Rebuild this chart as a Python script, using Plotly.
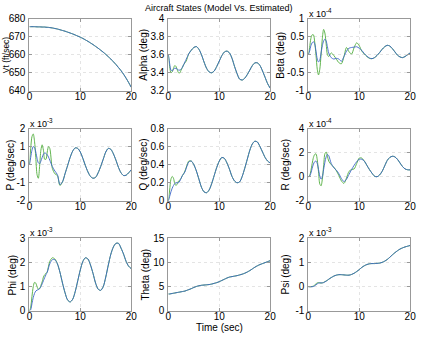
import plotly.graph_objects as go

# ---------------- data ----------------
time_s = [0, 0.25, 0.5, 0.75, 1.0, 1.25, 1.5, 1.75, 2.0, 2.25, 2.5, 2.75, 3.0, 3.25, 3.5, 3.75, 4.0,
          4.5, 5.0, 5.5, 6.0, 6.5, 7.0, 7.5, 8.0, 8.5, 9.0, 9.5, 10.0, 10.5, 11.0, 11.5, 12.0,
          12.5, 13.0, 13.5, 14.0, 14.5, 15.0, 15.5, 16.0, 16.5, 17.0, 17.5, 18.0, 18.5, 19.0, 19.5, 20.0]

vt_model = [675.5, 675.5, 675.5, 675.5, 675.5, 675.45, 675.4, 675.4, 675.4, 675.35, 675.3, 675.3, 675.3, 675.2, 675.15, 675.1, 675.0,
            674.8, 674.5, 674.2, 673.8, 673.4, 673.0, 672.5, 672.0, 671.5, 670.9, 670.3, 669.7, 669.0, 668.2, 667.4, 666.5,
            665.6, 664.6, 663.6, 662.5, 661.4, 660.2, 658.9, 657.6, 656.1, 654.6, 652.9, 651.2, 649.2, 647.0, 644.6, 642.0]
vt_est = list(vt_model)

alpha_model = [3.60, 3.47, 3.40, 3.41, 3.45, 3.48, 3.47, 3.43, 3.40, 3.40, 3.43, 3.46, 3.49, 3.51, 3.53, 3.57, 3.61,
               3.65, 3.68, 3.69, 3.66, 3.60, 3.52, 3.45, 3.41, 3.40, 3.42, 3.47, 3.53, 3.59, 3.63, 3.64, 3.62,
               3.56, 3.47, 3.39, 3.33, 3.32, 3.34, 3.38, 3.43, 3.48, 3.51, 3.51, 3.48, 3.42, 3.35, 3.28, 3.23]
alpha_est = [3.60, 3.50, 3.43, 3.42, 3.44, 3.45, 3.45, 3.44, 3.43, 3.43, 3.44, 3.46, 3.49, 3.52, 3.55, 3.58, 3.61,
             3.65, 3.68, 3.69, 3.66, 3.60, 3.52, 3.45, 3.41, 3.40, 3.42, 3.47, 3.53, 3.59, 3.63, 3.64, 3.62,
             3.56, 3.47, 3.39, 3.33, 3.32, 3.34, 3.38, 3.43, 3.48, 3.51, 3.51, 3.48, 3.42, 3.35, 3.28, 3.23]

# Beta, P, R, Phi, Psi are given in the plotted (scaled) units
beta_model = [0.0, 0.2, 0.45, 0.55, 0.55, 0.35, 0.0, -0.4, -0.56, -0.4, 0.0, 0.45, 0.70, 0.6, 0.3, 0.0, -0.05,
              0.05, -0.02, -0.12, -0.22, -0.25, -0.05, 0.2, 0.08, 0.02, 0.2, 0.33, 0.25, 0.1, 0.02, -0.05, -0.1,
              -0.11, -0.08, -0.02, 0.06, 0.15, 0.22, 0.26, 0.24, 0.17, 0.08, -0.01, -0.06, -0.08, -0.05, 0.0, 0.05]
beta_est = [0.0, 0.1, 0.25, 0.33, 0.36, 0.3, 0.1, -0.12, -0.2, -0.15, 0.05, 0.25, 0.38, 0.43, 0.38, 0.22, 0.05,
            -0.08, -0.12, -0.1, -0.12, -0.18, -0.05, 0.1, 0.18, 0.2, 0.21, 0.22, 0.18, 0.12, 0.03, -0.04, -0.09,
            -0.11, -0.08, -0.02, 0.06, 0.15, 0.22, 0.26, 0.24, 0.17, 0.08, -0.01, -0.06, -0.08, -0.05, 0.0, 0.05]

p_model = [0.0, 0.9, 1.55, 1.7, 1.3, 0.4, -0.55, -0.75, -0.1, 0.8, 1.1, 0.8, 0.3, 0.3, 0.7, 1.0, 0.9,
           -0.2, -0.5, -0.6, -1.15, -0.95, -0.5, -0.05, 0.4, 0.75, 0.93, 0.9, 0.7, 0.35, -0.05, -0.4, -0.65,
           -0.75, -0.7, -0.45, -0.1, 0.3, 0.7, 0.9, 0.85, 0.6, 0.25, -0.15, -0.45, -0.6, -0.58, -0.45, -0.28]
p_est = [0.0, 0.4, 0.8, 1.0, 0.95, 0.7, 0.35, 0.1, 0.05, 0.2, 0.4, 0.58, 0.65, 0.62, 0.55, 0.42, 0.25,
         -0.1, -0.35, -0.55, -1.1, -0.95, -0.5, -0.05, 0.4, 0.75, 0.93, 0.9, 0.7, 0.35, -0.05, -0.4, -0.65,
         -0.75, -0.7, -0.45, -0.1, 0.3, 0.7, 0.9, 0.85, 0.6, 0.25, -0.15, -0.45, -0.6, -0.58, -0.45, -0.28]

q_model = [0.0, 0.12, 0.24, 0.27, 0.25, 0.19, 0.17, 0.19, 0.22, 0.23, 0.25, 0.28, 0.30, 0.33, 0.37, 0.41, 0.44,
           0.44, 0.40, 0.33, 0.24, 0.15, 0.10, 0.09, 0.12, 0.19, 0.28, 0.37, 0.44, 0.48, 0.47, 0.42, 0.35,
           0.27, 0.22, 0.20, 0.21, 0.27, 0.36, 0.46, 0.56, 0.63, 0.66, 0.65, 0.60, 0.54, 0.48, 0.44, 0.42]
q_est = [0.0, 0.05, 0.10, 0.14, 0.17, 0.19, 0.20, 0.20, 0.20, 0.22, 0.25, 0.28, 0.30, 0.32, 0.36, 0.40, 0.43,
         0.44, 0.40, 0.33, 0.24, 0.15, 0.10, 0.09, 0.12, 0.19, 0.28, 0.37, 0.44, 0.48, 0.47, 0.42, 0.35,
         0.27, 0.22, 0.20, 0.21, 0.27, 0.36, 0.46, 0.56, 0.63, 0.66, 0.65, 0.60, 0.54, 0.48, 0.44, 0.42]

r_model = [0.0, 0.1, 0.5, 1.1, 1.6, 1.85, 1.9, 1.4, 0.4, -0.6, -0.75, -0.2, 0.9, 1.9, 2.05, 1.7, 1.3,
           1.0, 0.8, 0.5, 0.1, -0.35, -0.55, -0.1, 0.45, 0.6, 0.65, 1.1, 1.55, 1.55, 1.3, 0.95, 0.6,
           0.3, 0.05, 0.0, 0.15, 0.45, 0.9, 1.35, 1.6, 1.7, 1.65, 1.45, 1.15, 0.85, 0.65, 0.58, 0.57]
r_est = [0.0, 0.05, 0.3, 0.7, 1.05, 1.25, 1.3, 1.1, 0.6, 0.05, -0.2, 0.0, 0.6, 1.2, 1.65, 1.85, 1.75,
         1.1, 0.75, 0.55, 0.25, -0.15, -0.4, -0.2, 0.2, 0.6, 0.95, 1.25, 1.45, 1.45, 1.3, 0.95, 0.6,
         0.3, 0.05, 0.0, 0.15, 0.45, 0.9, 1.35, 1.6, 1.7, 1.65, 1.45, 1.15, 0.85, 0.65, 0.58, 0.57]

phi_model = [0.0, 0.15, 0.6, 1.0, 1.18, 1.15, 1.0, 0.9, 0.92, 1.05, 1.2, 1.4, 1.5, 1.55, 1.62, 1.85, 2.05,
             2.2, 2.15, 1.95, 1.6, 1.15, 0.75, 0.45, 0.37, 0.48, 0.8, 1.25, 1.7, 2.05, 2.2, 2.15, 1.9,
             1.55, 1.15, 0.9, 0.85, 1.0, 1.4, 1.9, 2.35, 2.65, 2.8, 2.8, 2.6, 2.35, 2.05, 1.85, 1.75]
phi_est = [0.0, 0.05, 0.3, 0.55, 0.72, 0.82, 0.86, 0.88, 0.92, 1.0, 1.12, 1.25, 1.38, 1.5, 1.6, 1.78, 1.95,
           2.12, 2.12, 1.95, 1.6, 1.15, 0.75, 0.45, 0.37, 0.48, 0.8, 1.25, 1.7, 2.05, 2.2, 2.15, 1.9,
           1.55, 1.15, 0.9, 0.85, 1.0, 1.4, 1.9, 2.35, 2.65, 2.8, 2.8, 2.6, 2.35, 2.05, 1.85, 1.75]

theta_model = [3.5, 3.5, 3.55, 3.6, 3.65, 3.7, 3.75, 3.8, 3.85, 3.9, 3.95, 4.0, 4.05, 4.1, 4.2, 4.3, 4.4,
               4.6, 4.85, 5.05, 5.2, 5.3, 5.35, 5.4, 5.45, 5.55, 5.7, 5.85, 6.05, 6.3, 6.55, 6.8, 7.0,
               7.1, 7.2, 7.3, 7.45, 7.6, 7.8, 8.05, 8.35, 8.7, 9.05, 9.35, 9.6, 9.8, 10.0, 10.2, 10.4]
theta_est = list(theta_model)

psi_model = [0.0, 0.0, 0.0, 0.01, 0.03, 0.07, 0.12, 0.16, 0.17, 0.16, 0.15, 0.16, 0.18, 0.21, 0.24, 0.27, 0.31,
             0.38, 0.44, 0.48, 0.50, 0.50, 0.49, 0.48, 0.48, 0.51, 0.56, 0.63, 0.71, 0.80, 0.87, 0.92, 0.95,
             0.96, 0.96, 0.97, 0.98, 1.01, 1.06, 1.13, 1.22, 1.32, 1.41, 1.49, 1.56, 1.61, 1.65, 1.68, 1.71]
psi_est = [0.0, 0.0, 0.0, 0.0, 0.01, 0.04, 0.08, 0.12, 0.15, 0.16, 0.16, 0.16, 0.17, 0.20, 0.23, 0.27, 0.31,
           0.38, 0.44, 0.48, 0.50, 0.50, 0.49, 0.48, 0.48, 0.51, 0.56, 0.63, 0.71, 0.80, 0.87, 0.92, 0.95,
           0.96, 0.96, 0.97, 0.98, 1.01, 1.06, 1.13, 1.22, 1.32, 1.41, 1.49, 1.56, 1.61, 1.65, 1.68, 1.71]

x_ticks = [0, 10, 20]
x_tick_labels = ["0", "10", "20"]

panels = [
    # (ylabel, model, est, yrange, tickvals, ticklabels, exponent)
    ("Vt (ft/sec)", vt_model, vt_est, [640, 680], [640, 650, 660, 670, 680], ["640", "650", "660", "670", "680"], None),
    ("Alpha (deg)", alpha_model, alpha_est, [3.2, 4.0], [3.2, 3.4, 3.6, 3.8, 4.0], ["3.2", "3.4", "3.6", "3.8", "4"], None),
    ("Beta (deg)", beta_model, beta_est, [-1, 1], [-1, -0.5, 0, 0.5, 1], ["-1", "-0.5", "0", "0.5", "1"], "-4"),
    ("P (deg/sec)", p_model, p_est, [-2, 2], [-2, -1, 0, 1, 2], ["-2", "-1", "0", "1", "2"], "-3"),
    ("Q (deg/sec)", q_model, q_est, [0, 0.8], [0, 0.2, 0.4, 0.6, 0.8], ["0", "0.2", "0.4", "0.6", "0.8"], None),
    ("R (deg/sec)", r_model, r_est, [-2, 4], [-2, 0, 2, 4], ["-2", "0", "2", "4"], "-4"),
    ("Phi (deg)", phi_model, phi_est, [0, 3], [0, 1, 2, 3], ["0", "1", "2", "3"], "-3"),
    ("Theta (deg)", theta_model, theta_est, [0, 15], [0, 5, 10, 15], ["0", "5", "10", "15"], None),
    ("Psi (deg)", psi_model, psi_est, [-1, 2], [-1, 0, 1, 2], ["-1", "0", "1", "2"], "-3"),
]

# ---------------- layout ----------------
W, H = 422, 340
col_px = [(27, 131), (169, 273), (312, 416)]
row_px = [(13, 88), (127, 202), (241, 316)]
ylabel_x_px = [2.5, 144, 284, 8, 144, 289, 10, 146, 289]
ylabel_size = [8.5, 10, 10, 10, 10, 10, 10, 10, 10]

GREEN = "#62b550"
BLUE = "#3d66c9"
FONT = "Liberation Sans, Arial, sans-serif"
BOX = "#999999"

fig = go.Figure()
annotations = []
layout_axes = {}

for i, (ylab, mod, est, yr, tv, tt, expo) in enumerate(panels):
    r, c = divmod(i, 3)
    x0, x1 = col_px[c]
    yt, yb = row_px[r]
    k = "" if i == 0 else str(i + 1)
    xa, ya = "x" + k, "y" + k
    fig.add_trace(go.Scatter(x=time_s, y=mod, mode="lines", xaxis=xa, yaxis=ya,
                             line=dict(color=GREEN, width=1, shape="spline", smoothing=0.8),
                             showlegend=False, hoverinfo="skip"))
    fig.add_trace(go.Scatter(x=time_s, y=est, mode="lines", xaxis=xa, yaxis=ya,
                             line=dict(color=BLUE, width=1, shape="spline", smoothing=0.8),
                             opacity=0.9, showlegend=False, hoverinfo="skip"))
    common = dict(showline=True, linecolor=BOX, linewidth=1, mirror="ticks",
                  ticks="inside", ticklen=3, tickcolor=BOX,
                  showgrid=True, gridcolor="#e4e4e4", griddash="dot", gridwidth=1,
                  zeroline=False, tickfont=dict(family=FONT, size=10, color="#000000"),
                  fixedrange=True)
    layout_axes["xaxis" + k] = dict(domain=[x0 / W, x1 / W], anchor=ya, range=[0, 20],
                                    tickmode="array", tickvals=x_ticks, ticktext=x_tick_labels,
                                    ticklabelstandoff=-4, **common)
    layout_axes["yaxis" + k] = dict(domain=[1 - yb / H, 1 - yt / H], anchor=xa, range=yr,
                                    tickmode="array", tickvals=tv, ticktext=tt,
                                    ticklabelstandoff=1, **common)
    annotations.append(dict(x=ylabel_x_px[i] / W, y=1 - (yt + yb) / 2 / H, xref="paper", yref="paper",
                            xanchor="center", yanchor="middle", textangle=-90, showarrow=False,
                            borderpad=0, text=ylab,
                            font=dict(family=FONT, size=ylabel_size[i], color="#000000")))
    if expo:
        annotations.append(dict(x=x0 / W, y=1 - yt / H, xref="paper", yref="paper",
                                xanchor="left", yanchor="bottom", showarrow=False,
                                text="x 10<sup>" + expo + "</sup>", xshift=-1, yshift=-2,
                                font=dict(family=FONT, size=9, color="#000000")))

annotations.append(dict(x=221 / W, y=1, xref="paper", yref="paper", xanchor="center",
                        yanchor="middle", yshift=-2, showarrow=False,
                        text="Aircraft States (Model Vs. Estimated)",
                        font=dict(family=FONT, size=9, color="#000000")))
annotations.append(dict(x=221 / W, y=1 - 333 / H, xref="paper", yref="paper", xanchor="center",
                        yanchor="middle", showarrow=False, text="Time (sec)",
                        font=dict(family=FONT, size=10, color="#000000")))

fig.update_layout(width=W, height=H, margin=dict(l=0, r=0, t=0, b=0),
                  paper_bgcolor="white", plot_bgcolor="white",
                  annotations=annotations, **layout_axes)

fig.write_html("out.html")
